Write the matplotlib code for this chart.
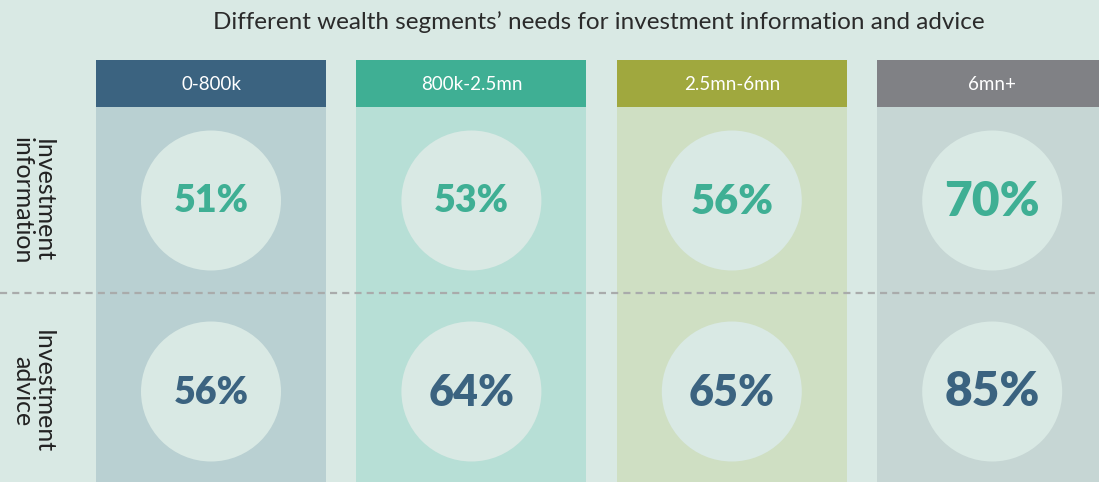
import matplotlib.pyplot as plt
from matplotlib.patches import Rectangle, Circle

# data
segments = ['0-800k', '800k-2.5mn', '2.5mn-6mn', '6mn+']
rows = ['Investment\ninformation', 'Investment\nadvice']
info_pct = [51, 53, 56, 70]
advice_pct = [56, 64, 65, 85]
title = 'Different wealth segments\u2019 needs for investment information and advice'

# styles
bg = '#d9e9e4'
head_colors = ['#3b6380', '#3faf94', '#a0a83e', '#808185']
body_colors = ['#b9d0d2', '#b7dfd6', '#cfdfc3', '#c6d6d4']
row_text_colors = ['#3faf94', '#3b6380']
info_sizes = [27, 27, 30, 34.5]
advice_sizes = [27, 31, 31, 34.5]

W, H = 1099, 482
fig = plt.figure(figsize=(W / 100, H / 100), dpi=100, facecolor=bg)
ax = fig.add_axes([0, 0, 1, 1])
ax.set_xlim(0, W)
ax.set_ylim(H, 0)
ax.axis('off')
ax.set_facecolor(bg)

plt.rcParams['font.family'] = ['Lato', 'DejaVu Sans']

x0, col_w, pitch = 96, 230, 260.4
head_top, head_h = 60, 47
row_y = [200.5, 391.5]
radius = 70

ax.text(599, 22, title, ha='center', va='center', fontsize=17.5, color='#2b2b2b')

for i, seg in enumerate(segments):
    left = x0 + i * pitch
    cx = left + col_w / 2
    ax.add_patch(Rectangle((left, head_top + head_h), col_w, H - head_top - head_h,
                           color=body_colors[i], lw=0))
    ax.add_patch(Rectangle((left, head_top), col_w, head_h, color=head_colors[i], lw=0))
    ax.text(cx, head_top + head_h / 2 + 1, seg, ha='center', va='center',
            fontsize=13.5, color='white')
    for r, (vals, sizes) in enumerate([(info_pct, info_sizes), (advice_pct, advice_sizes)]):
        ax.add_patch(Circle((cx, row_y[r]), radius, color=bg, lw=0))
        ax.text(cx, row_y[r] + 1, f'{vals[i]}%', ha='center', va='center',
                fontsize=sizes[i], fontweight='heavy', color=row_text_colors[r])

# separator between rows
ax.plot([0, W], [293, 293], color='#a9abab', lw=1.6, dashes=(3.2, 2.3))

for r, label in enumerate(rows):
    ax.text(33, row_y[r], label, ha='center', va='center', rotation=-90,
            fontsize=18, color='#222222', linespacing=0.9)

fig.savefig('out.png', dpi=100, facecolor=bg)
